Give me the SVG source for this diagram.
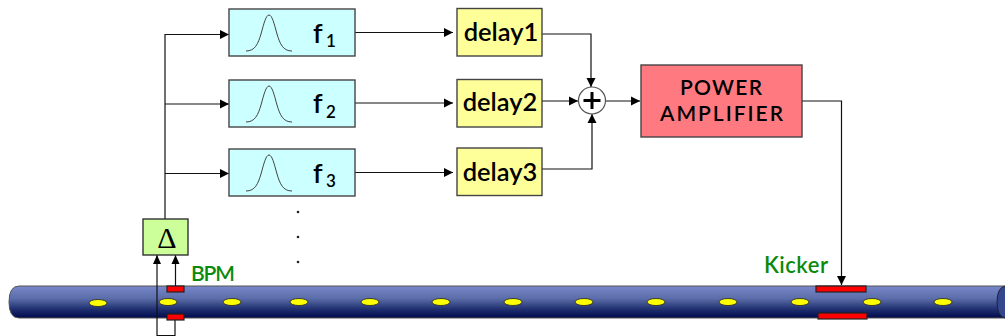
<svg xmlns="http://www.w3.org/2000/svg" width="1005" height="336" viewBox="0 0 1005 336">
<style>
text{font-family:"Lato","Noto Sans","DejaVu Sans",sans-serif;font-weight:600;fill:#000}
.box{stroke:#444;stroke-width:1.4}
.filt{fill:#ccffff}.del{fill:#ffff99}
.gauss{fill:none;stroke:#444;stroke-width:1}
.c{fill:none;stroke:#111;stroke-width:1.2}
.lab{font-size:27px}.sub{font-size:17px}
.del-t{font-size:25.5px;text-anchor:middle}
.pa{font-size:21px;text-anchor:middle}
.grn{fill:#0a8a0a}
.bpm{fill:#ff0000;stroke:#222;stroke-width:1.2}
.hole{fill:#ffff00;stroke:#222;stroke-width:.8}
.dot{fill:#222}
</style>
<defs>
<linearGradient id="tube" x1="0" y1="0" x2="0" y2="1"><stop offset="0" stop-color="#7888cc"/><stop offset=".4" stop-color="#5a6ca8"/><stop offset=".72" stop-color="#203070"/><stop offset="1" stop-color="#000a4c"/></linearGradient>
<marker id="a" markerUnits="userSpaceOnUse" markerWidth="11" markerHeight="11" refX="10" refY="5.500" orient="auto"><path d="M1 1L10 5.500L1 10z" fill="#000"/></marker>
<path id="g" d="M0 36C9 36 12 29 15 19C18 8 20 0 23 0C26 0 28 8 31 19C34 29 37 36 46 36"/>
</defs>
<g id="beampipe">
<path d="M1005 286H19Q9 286 9 302Q9 318 19 318H1005Z" fill="url(#tube)" stroke="#555" stroke-width="1"/>
<path d="M1005 286Q997 288 997 302Q997 316 1005 318" fill="#33478f" stroke="#223" stroke-width="1"/>
<g class="hole"><ellipse cx="98" cy="303" rx="9" ry="3.500"/><ellipse cx="168" cy="302" rx="9" ry="3.500"/><ellipse cx="232" cy="302" rx="9" ry="3.500"/><ellipse cx="299" cy="302" rx="9" ry="3.500"/><ellipse cx="370" cy="302" rx="9" ry="3.500"/><ellipse cx="441" cy="302" rx="9" ry="3.500"/><ellipse cx="513" cy="302" rx="9" ry="3.500"/><ellipse cx="584" cy="302" rx="9" ry="3.500"/><ellipse cx="656" cy="302" rx="9" ry="3.500"/><ellipse cx="728" cy="302" rx="9" ry="3.500"/><ellipse cx="800" cy="302" rx="9" ry="3.500"/><ellipse cx="872" cy="302" rx="9" ry="3.500"/><ellipse cx="943" cy="302" rx="9" ry="3.500"/></g>
</g>
<g id="connectors">
<path class="c" d="M165 219V34.500H229" marker-end="url(#a)"/>
<path class="c" d="M165 104H229" marker-end="url(#a)"/>
<path class="c" d="M165 173.500H229" marker-end="url(#a)"/>
<path class="c" d="M355 32.500H453" marker-end="url(#a)"/>
<path class="c" d="M355 103H453" marker-end="url(#a)"/>
<path class="c" d="M355 172.500H453" marker-end="url(#a)"/>
<path class="c" d="M542 34H591V87" marker-end="url(#a)"/>
<path class="c" d="M542 101H578" marker-end="url(#a)"/>
<path class="c" d="M542 169H592V114" marker-end="url(#a)"/>
<path class="c" d="M605 101H640" marker-end="url(#a)"/>
<path class="c" d="M802 101H841.500V285" marker-end="url(#a)"/>
<path class="c" d="M157 255V335.500H175V320"/>
<path class="c" d="M175.500 286V255"/>
<path d="M157 255l-4 9h8z M175.500 255l-4 9h8z" fill="#000"/>
</g>
<g id="bpm-top"><rect class="bpm" x="167" y="286" width="17" height="6"/></g>
<g id="bpm-bottom"><rect class="bpm" x="167" y="314" width="17" height="6"/></g>
<g id="kicker-top"><rect class="bpm" x="816" y="286" width="50" height="6"/></g>
<g id="kicker-bottom"><rect class="bpm" x="818" y="313" width="49" height="6"/></g>
<g id="f1"><rect class="box filt" x="229" y="9" width="126" height="47"/><use href="#g" class="gauss" x="246" y="15"/><text class="lab" x="313" y="43">f</text><text class="sub" x="326" y="47">1</text></g>
<g id="f2"><rect class="box filt" x="229" y="80" width="126" height="47"/><use href="#g" class="gauss" x="246" y="86"/><text class="lab" x="313" y="113">f</text><text class="sub" x="326" y="118">2</text></g>
<g id="f3"><rect class="box filt" x="229" y="149" width="126" height="47"/><use href="#g" class="gauss" x="246" y="155"/><text class="lab" x="313" y="183">f</text><text class="sub" x="326" y="187">3</text></g>
<g id="delay1"><rect class="box del" x="457" y="8.500" width="85" height="47.500"/><text class="del-t" x="501" y="41">delay1</text></g>
<g id="delay2"><rect class="box del" x="457" y="79.500" width="85" height="47.500"/><text class="del-t" x="500" y="111">delay2</text></g>
<g id="delay3"><rect class="box del" x="457" y="148" width="85" height="47.500"/><text class="del-t" x="500" y="181">delay3</text></g>
<g id="sum"><circle cx="592" cy="100.500" r="13.500" fill="#fff" stroke="#555" stroke-width="1.200"/><path d="M583.500 100.500H600.500M592 92V109" stroke="#000" stroke-width="3" fill="none"/></g>
<g id="power-amplifier"><rect class="box" x="641" y="65" width="161" height="72" fill="#ff7a80"/><text class="pa" x="721" y="95" textLength="82" lengthAdjust="spacing">POWER</text><text class="pa" x="721.500" y="121" textLength="123" lengthAdjust="spacing">AMPLIFIER</text></g>
<g id="delta"><rect x="143" y="219" width="45" height="36" fill="#ccff99" stroke="#333" stroke-width="1.400"/><text x="167" y="248" font-size="30" text-anchor="middle" style="font-family:'Liberation Serif',serif;font-weight:400">Δ</text></g>
<g id="bpm-label"><text class="grn" x="191" y="281" font-size="21" textLength="44">BPM</text></g>
<g id="kicker-label"><text class="grn" x="764" y="273" font-size="22" textLength="64">Kicker</text></g>
<g id="dots" class="dot"><circle cx="298" cy="212" r="1.300"/><circle cx="298" cy="237" r="1.300"/><circle cx="298" cy="262" r="1.300"/></g>
</svg>
